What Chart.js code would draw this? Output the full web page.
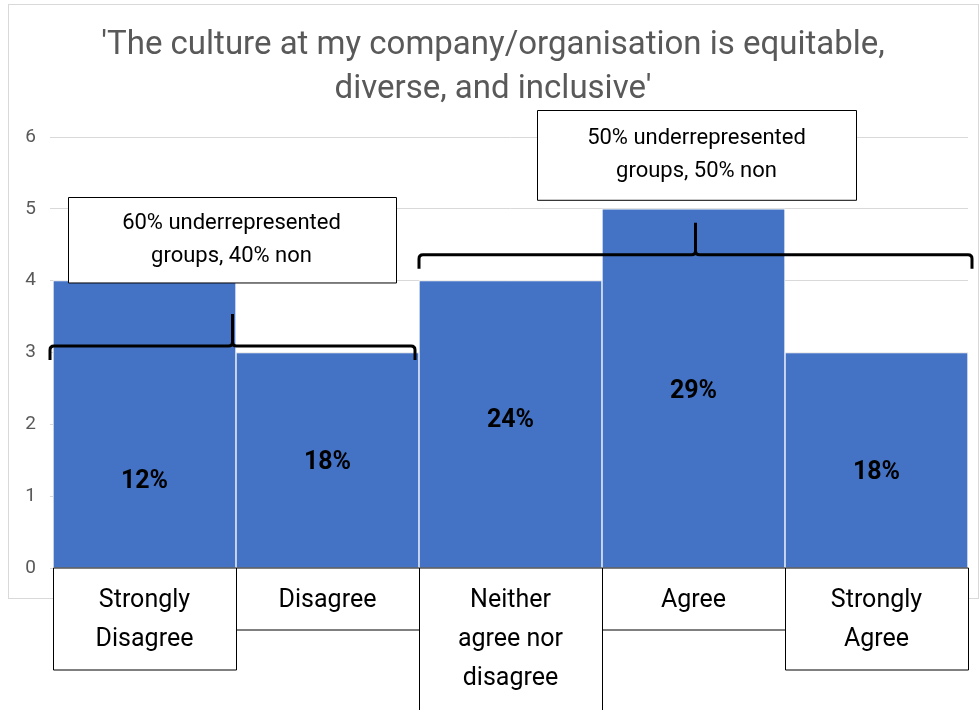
<!DOCTYPE html>
<html>
<head>
<meta charset="utf-8">
<script src="https://cdn.jsdelivr.net/npm/chart.js@4"></script>
<style>
  html, body { margin: 0; padding: 0; background: #fff; }
  #wrap { width: 979px; height: 710px; }
</style>
</head>
<body>
<div id="wrap"><canvas id="cultureChart" width="979" height="710"></canvas></div>
<script>
// data
const categories = [['Strongly', 'Disagree'], ['Disagree'], ['Neither', 'agree nor', 'disagree'], ['Agree'], ['Strongly', 'Agree']];
const counts = [4, 3, 4, 5, 3];
const shares = ['12%', '18%', '24%', '29%', '18%'];
const groupSpans = [[0, 1], [2, 4]];
const groupNotes = [['60% underrepresented', 'groups, 40% non'], ['50% underrepresented', 'groups, 50% non']];
const titleLines = ["'The culture at my company/organisation is equitable,", "diverse, and inclusive'"];

// where the labels sit (in value units), kept apart from the data
const shareLabelY = [1.2, 1.46, 2.05, 2.46, 1.32];
const braceY = [3.09, 4.36];
const braceEnds = [[-3, -4], [0, 4]];   // pixel nudges of brace ends
const noteBoxTop = [5.17, 6.38];
const noteBoxBottom = [3.98, 5.13];
const noteBoxWidth = [328, 319];
const noteBoxShift = [-1, 1];

const FONT = 'Roboto, "Open Sans", sans-serif';
const GREY = '#595959';

const extras = {
  id: 'extras',
  beforeDraw(chart) {
    const ctx = chart.ctx;
    ctx.save();
    ctx.strokeStyle = '#d9d9d9';
    ctx.lineWidth = 1;
    ctx.strokeRect(8.5, 4.5, 970, 594);
    // title
    ctx.fillStyle = GREY;
    ctx.font = '33px ' + FONT;
    ctx.textAlign = 'center';
    ctx.textBaseline = 'middle';
    ctx.fillText(titleLines[0], 493, 46);
    ctx.fillText(titleLines[1], 493, 90);
    ctx.restore();
  },
  afterDatasetsDraw(chart) {
    const ctx = chart.ctx;
    const x = chart.scales.x;
    const y = chart.scales.y;
    const half = (x.getPixelForValue(1) - x.getPixelForValue(0)) / 2;
    ctx.save();

    // percentage labels in the bars
    ctx.fillStyle = '#000';
    ctx.font = 'bold 25px ' + FONT;
    ctx.textAlign = 'center';
    ctx.textBaseline = 'middle';
    shares.forEach((s, i) => {
      ctx.fillText(s, x.getPixelForValue(i), y.getPixelForValue(shareLabelY[i]));
    });

    // braces over the groups
    groupSpans.forEach((span, g) => {
      const x0 = x.getPixelForValue(span[0]) - half + braceEnds[g][0];
      const x1 = x.getPixelForValue(span[1]) + half + braceEnds[g][1];
      const mid = (x0 + x1) / 2;
      const by = y.getPixelForValue(braceY[g]);
      ctx.strokeStyle = '#000';
      ctx.lineWidth = 3;
      ctx.lineJoin = 'round';
      ctx.beginPath();
      ctx.moveTo(x0, by + 14);
      ctx.lineTo(x0, by + 4);
      ctx.quadraticCurveTo(x0, by, x0 + 4, by);
      ctx.lineTo(mid - 4, by);
      ctx.quadraticCurveTo(mid, by, mid, by - 4);
      ctx.lineTo(mid, by - 32);
      ctx.moveTo(mid, by - 4);
      ctx.quadraticCurveTo(mid, by, mid + 4, by);
      ctx.lineTo(x1 - 4, by);
      ctx.quadraticCurveTo(x1, by, x1, by + 4);
      ctx.lineTo(x1, by + 14);
      ctx.stroke();

      // note box
      const top = y.getPixelForValue(noteBoxTop[g]);
      const bot = y.getPixelForValue(noteBoxBottom[g]);
      const w = noteBoxWidth[g];
      const cx = mid + noteBoxShift[g];
      const left = Math.round(cx - w / 2) + 0.5;
      ctx.fillStyle = '#fff';
      ctx.fillRect(left, Math.round(top) + 0.5, w, bot - top);
      ctx.lineWidth = 1;
      ctx.strokeRect(left, Math.round(top) + 0.5, w, bot - top);
      ctx.fillStyle = '#000';
      ctx.font = '22px ' + FONT;
      const cy = (top + bot) / 2;
      ctx.fillText(groupNotes[g][0], cx, cy - 16);
      ctx.fillText(groupNotes[g][1], cx, cy + 17);
    });

    // category label boxes under the axis
    const base = y.getPixelForValue(0);
    ctx.font = '25px ' + FONT;
    categories.forEach((lines, i) => {
      const left = Math.round(x.getPixelForValue(i) - half) + 0.5;
      const h = lines.length * 40 + 22 + (lines.length > 2 ? 12 : 0);
      ctx.fillStyle = '#fff';
      ctx.fillRect(left, base, half * 2, h);
      ctx.strokeStyle = '#000';
      ctx.lineWidth = 1;
      ctx.strokeRect(left, base, Math.round(half * 2), h);
      ctx.fillStyle = '#000';
      lines.forEach((t, k) => {
        ctx.fillText(t, x.getPixelForValue(i), base + 33 + k * 39);
      });
    });
    ctx.restore();
  }
};

new Chart(document.getElementById('cultureChart'), {
  type: 'bar',
  data: {
    labels: categories.map(c => c.join(' ')),
    datasets: [{
      data: counts,
      backgroundColor: '#4472c4',
      borderColor: '#ffffff',
      borderWidth: 1,
      categoryPercentage: 1,
      barPercentage: 1
    }]
  },
  options: {
    responsive: false,
    animation: false,
    layout: { padding: { left: 8, right: 11, top: 137, bottom: 142 } },
    plugins: {
      legend: { display: false },
      title: { display: false },
      tooltip: { enabled: false }
    },
    scales: {
      x: { display: false },
      y: {
        min: 0,
        max: 6,
        afterFit(scale) { scale.width = 45; },
        ticks: { stepSize: 1, color: GREY, font: { family: FONT, size: 19 }, padding: 14 },
        grid: { color: '#d9d9d9', tickLength: 3 },
        border: { display: false }
      }
    }
  },
  plugins: [extras]
});
</script>
</body>
</html>
